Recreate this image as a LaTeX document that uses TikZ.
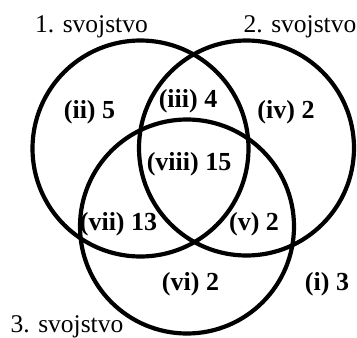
\documentclass[tikz,border=0pt]{standalone}
\usepackage{fontspec}
\setmainfont{Liberation Serif}
\begin{document}
\begin{tikzpicture}[x=1pt,y=-1pt,
  ring/.style={draw=black,line width=4.2pt},
  setlabel/.style={anchor=base,inner sep=0pt,font=\fontsize{25.5}{30}\selectfont},
  count/.style={anchor=base,inner sep=0pt,font=\fontsize{26}{30}\selectfont\bfseries}]
\useasboundingbox (0,0) rectangle (357,338);
\node[ring,circle,minimum size=216pt,inner sep=0pt] (c1) at (140.5,148.5) {};
\node[ring,circle,minimum size=215pt,inner sep=0pt] (c2) at (246.5,148) {};
\node[ring,circle,minimum size=214pt,inner sep=0pt] (c3) at (187,226.5) {};
\node[setlabel] (l1) at (91.5,32) {1. svojstvo};
\node[setlabel] (l2) at (300,32) {2. svojstvo};
\node[setlabel] (l3) at (67,332) {3. svojstvo};
\node[count] (r2) at (89.5,118) {(ii) 5};
\node[count] (r3) at (188,107) {(iii) 4};
\node[count] (r4) at (286,118) {(iv) 2};
\node[count] (r8) at (189,170) {(viii) 15};
\node[count] (r7) at (118.5,230) {(vii) 13};
\node[count] (r5) at (254,230) {(v) 2};
\node[count] (r6) at (190.5,290) {(vi) 2};
\node[count] (r1) at (327,290) {(i) 3};
\end{tikzpicture}
\end{document}
